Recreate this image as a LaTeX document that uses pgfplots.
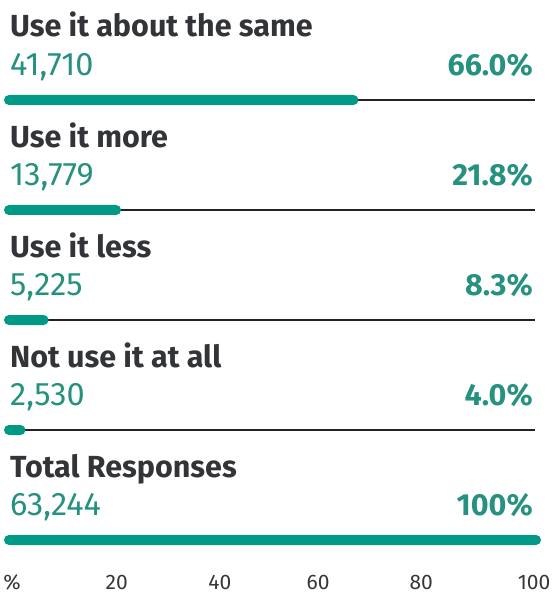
\documentclass[border=0pt]{standalone}
\usepackage{pgfplots}
\pgfplotsset{compat=1.18}
\usepackage{fontspec}
\setmainfont{Fira Sans}
\definecolor{barteal}{RGB}{0,153,133}
\definecolor{numteal}{RGB}{38,145,127}
\definecolor{titlegray}{RGB}{50,52,56}
\definecolor{trackblack}{RGB}{34,34,36}
\definecolor{tickgray}{RGB}{55,55,58}
\newcommand{\ttl}{\bfseries\fontsize{30.5}{30.5}\selectfont}
\newcommand{\num}{\fontsize{32.5}{32.5}\selectfont}
\newcommand{\tk}{\fontsize{21}{21}\selectfont}
\begin{document}
\begin{tikzpicture}
\useasboundingbox (0,0) rectangle (555pt,596pt);
\begin{axis}[
  at={(4pt,6.5pt)}, anchor=south west,
  scale only axis, width=537pt, height=589.5pt,
  xmin=0, xmax=100,
  ymin=-0.9091, ymax=4.45, y dir=reverse,
  axis line style={draw=none},
  tick style={draw=none},
  ytick=\empty,
  xtick={1.5,21.0,40.2,58.5,77.7,98.7},
  xticklabels={{\tk\%},{\tk 20},{\tk 40},{\tk 60},{\tk 80},{\tk 100}},
  typeset ticklabels with strut=false,
  every x tick label/.append style={anchor=base, inner sep=0pt, outer sep=0pt, font=\tk, text=tickgray, yshift=0pt},
  xticklabel shift=0pt,
  major tick length=0pt,
  clip=false,
]
% tracks
\addplot[trackblack, line width=2pt] coordinates {(1,0) (98.9,0)};
\addplot[trackblack, line width=2pt] coordinates {(1,1) (98.9,1)};
\addplot[trackblack, line width=2pt] coordinates {(1,2) (98.9,2)};
\addplot[trackblack, line width=2pt] coordinates {(1,3) (98.9,3)};
% bars
\addplot[xbar, bar width=10pt, fill=barteal, draw=none, rounded corners=5pt]
  coordinates {(66.0,0) (21.8,1) (8.3,2) (4.0,3) (100,4)};
% texts
\def\tx{1.12}\def\px{98.5}
\node[anchor=base west, inner sep=0pt, font=\ttl, text=titlegray] at (axis cs:\tx,-0.5727) {Use it about the same};
\node[anchor=base west, inner sep=0pt, font=\num, text=numteal] at (axis cs:\tx,-0.227) {41,710};
\node[anchor=base east, inner sep=0pt, font=\ttl, text=numteal] at (axis cs:\px,-0.227) {66.0\%};
\node[anchor=base west, inner sep=0pt, font=\ttl, text=titlegray] at (axis cs:\tx,0.4273) {Use it more};
\node[anchor=base west, inner sep=0pt, font=\num, text=numteal] at (axis cs:\tx,0.773) {13,779};
\node[anchor=base east, inner sep=0pt, font=\ttl, text=numteal] at (axis cs:\px,0.773) {21.8\%};
\node[anchor=base west, inner sep=0pt, font=\ttl, text=titlegray] at (axis cs:\tx,1.4273) {Use it less};
\node[anchor=base west, inner sep=0pt, font=\num, text=numteal] at (axis cs:\tx,1.773) {5,225};
\node[anchor=base east, inner sep=0pt, font=\ttl, text=numteal] at (axis cs:\px,1.773) {8.3\%};
\node[anchor=base west, inner sep=0pt, font=\ttl, text=titlegray] at (axis cs:\tx,2.4273) {Not use it at all};
\node[anchor=base west, inner sep=0pt, font=\num, text=numteal] at (axis cs:\tx,2.773) {2,530};
\node[anchor=base east, inner sep=0pt, font=\ttl, text=numteal] at (axis cs:\px,2.773) {4.0\%};
\node[anchor=base west, inner sep=0pt, font=\ttl, text=titlegray] at (axis cs:\tx,3.4273) {Total Responses};
\node[anchor=base west, inner sep=0pt, font=\num, text=numteal] at (axis cs:\tx,3.773) {63,244};
\node[anchor=base east, inner sep=0pt, font=\ttl, text=numteal] at (axis cs:\px,3.773) {100\%};
\end{axis}
\end{tikzpicture}
\end{document}
